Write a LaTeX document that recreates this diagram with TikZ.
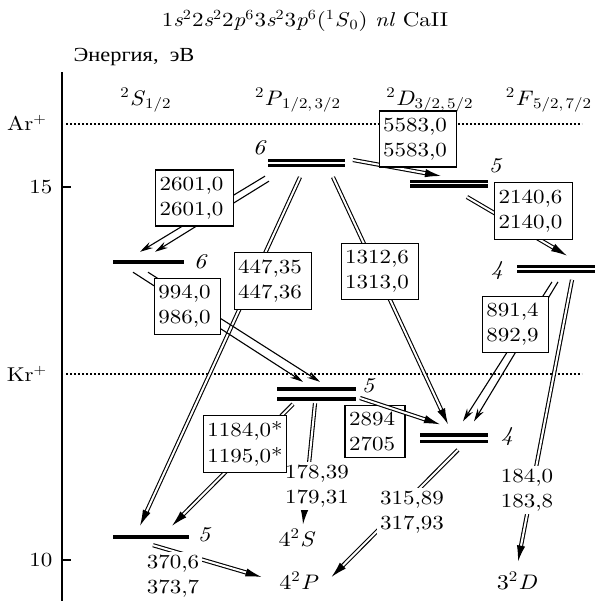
\documentclass[tikz,border=0pt]{standalone}
\usepackage{fontspec}
\setmainfont{lmroman10}[Extension=.otf, UprightFont=*-regular, ItalicFont=*-italic, BoldFont=*-bold, FakeStretch=1.15]
\newfontfamily\cyrfont{Liberation Serif}[FakeStretch=1.12]
\usetikzlibrary{arrows.meta,calc}
\newcommand{\eup}[1]{\textsuperscript{#1}}
\newcommand{\edn}[1]{\textsubscript{#1}}
\newcommand{\pz}{\hspace*{3pt}}

\begin{document}
\begin{tikzpicture}[
        x=0.5pt, y=-0.5pt,
        font=\fontsize{10}{12.6}\selectfont,
        slev/.style={fill=black, inner sep=0pt, outer sep=0pt, minimum height=2.2pt, minimum width=#1*0.5pt},
        dlev/.style 2 args={fill=white, inner sep=0pt, outer sep=0pt, minimum width=#1*0.5pt, minimum height=#2*0.5pt,
            path picture={\fill[black] (path picture bounding box.north west) rectangle ([yshift=-1.6pt]path picture bounding box.north east);
                          \fill[black] ([yshift=1.6pt]path picture bounding box.south west) rectangle (path picture bounding box.south east);}},
        term/.style={font=\fontsize{10.5}{12}\selectfont, inner sep=1pt},
        num/.style={font=\fontsize{10.5}{12}\selectfont\itshape, inner sep=1pt},
        wbox/.style={draw, fill=white, align=left, inner xsep=2pt, inner ysep=3.4pt, line width=0.55pt},
        wtxt/.style={fill=white, align=left, inner sep=1.5pt},
        darr/.style={double, line width=0.55pt, double distance=1pt, -{Latex[length=8pt, width=4.2pt]}},
        sarr/.style={line width=0.55pt, -{Stealth[length=6.5pt, width=3.4pt]}},
        dots/.style={line width=0.9pt, dash pattern=on 0.9pt off 1.1pt}
    ]
        \useasboundingbox (0,0) rectangle (597,601);

        % heading and axis
        \node (title) at (305,21) {1\textit{s}\eup{2}2\textit{s}\eup{2}2\textit{p}\eup{6}3\textit{s}\eup{2}3\textit{p}\eup{6}(\eup{1}\textit{S}\edn{0}) \textit{nl} CaII};
        \node (ylab) at (134,57) {\cyrfont\fontsize{10}{12}\selectfont Энергия,\ \ эВ};
        \draw[line width=1.1pt] (62,72) -- (62,601);
        \draw[line width=1.1pt] (62,187) -- (71,187);
        \draw[line width=1.1pt] (62,560) -- (71,560);
        \node (e15) at (41,187) {15};
        \node (e10) at (41,560) {10};
        \node (ar) at (27,123) {Ar\eup{+}};
        \node (kr) at (27,374) {Kr\eup{+}};
        \draw[dots] (66,124) -- (582,124);
        \draw[dots] (66,374) -- (582,374);

        % series
        \node[term] (tS) at (146,100) {\eup{2}\textit{S}\edn{1/2}};
        \node[term] (tP) at (298,100) {\eup{2}\textit{P}\edn{1/2,\,3/2}};
        \node[term] (tD) at (430,100) {\eup{2}\textit{D}\edn{3/2,\,5/2}};
        \node[term] (tF) at (549,100) {\eup{2}\textit{F}\edn{5/2,\,7/2}};

        % levels
        \node[dlev={77}{8.3}] (p6) at (306.5,163) {};
        \node[dlev={78}{8}] (d5) at (449,183.5) {};
        \node[dlev={78}{8.7}] (f4) at (556,269) {};
        \node[dlev={79}{13.3}] (p5) at (316.5,394) {};
        \node[dlev={68}{10}] (d4) at (454,438.3) {};
        \node[slev=71] (s6) at (148.5,262) {};
        \node[slev=76] (s5) at (151,537) {};
        \node[num] (np6) at (259,148) {6};
        \node[num] (ns6) at (200,262) {6};
        \node[num] (nd5) at (495,166) {5};
        \node[num] (nf4) at (497,271) {4};
        \node[num] (np5) at (368,386) {5};
        \node[num] (nd4) at (507,437) {4};
        \node[num] (ns5) at (204,535) {5};
        \node[term] (s4) at (297,538) {4\eup{2}\textit{S}};
        \node[term] (p4) at (299,581) {4\eup{2}\textit{P}};
        \node[term] (d3) at (517,581) {3\eup{2}\textit{D}};

        % transitions
        \draw[darr] ($(p6.east)+(8,-3)$) -- ($(d5.north)+(-8,-3.5)$);
        \draw[darr] ($(d5.south)+(18,9.5)$) -- ($(f4.north)+(11,-9)$);
        \draw[sarr] ($(p6.south west)+(-3,9)$) -- ($(s6.north)+(-8.5,-8)$);
        \draw[sarr] ($(p6.south west)+(1,14)$) -- ($(s6.north)+(6.5,-8)$);
        \draw[darr] ($(p6.south)+(-6.5,10)$) -- ($(s5.north)+(-11,-9)$);
        \draw[darr] ($(p6.south)+(26.5,10)$) -- ($(d4.north)+(-6,-9)$);
        \draw[sarr] ($(s6.south)+(-15.5,8)$) -- ($(p5.north)+(-13.5,-5.5)$);
        \draw[sarr] ($(s6.south)+(-0.5,8)$) -- ($(p5.north)+(3.5,-5.5)$);
        \draw[sarr] ($(f4.south)+(-4,8.5)$) -- ($(d4.north)+(9,-12)$);
        \draw[sarr] ($(f4.south)+(2,8.5)$) -- ($(d4.north)+(20,-12)$);
        \draw[darr] ($(f4.south)+(16,6.5)$) -- ($(d3.north)+(1,-8)$);
        \draw[darr] ($(p5.south)+(-1.5,2.5)$) -- ($(s4.north)+(6,-2)$);
        \draw[darr] ($(p5.south)+(-23.5,3.5)$) -- ($(s5.north)+(21,-9)$);
        \draw[darr] ($(d4.south)+(4,6.5)$) -- ($(p4.east)+(10.5,-4)$);
        \draw[darr] ($(s5.south)+(2,6)$) -- ($(p4.west)+(-15.5,-4)$);

        % wavelengths
        \node[wtxt] (w178) at (317,486) {178,39\\179,31};
        \node[wtxt] (w315) at (412,512) {315,89\\317,93};
        \node[wtxt] (w184) at (527,490) {184,0\\183,8};
        \node[wtxt] (w370) at (173,576) {370,6\\373,7};
        \node[wbox] (b5583) at (418,139) {5583,0\pz\\5583,0\pz};
        \node[wbox] (b2601) at (194.5,198) {2601,0\pz\\2601,0\pz};
        \node[wbox] (b447) at (273,281) {447,35\pz\\447,36\pz};
        \node[wbox] (b1312) at (380,271.5) {1312,6\pz\\1313,0\pz};
        \node[wbox] (b2140) at (533.5,211) {2140,6\pz\\2140,0\pz};
        \node[wbox] (b994) at (187.5,306.5) {994,0\pz\\986,0\pz};
        \node[wbox] (b891) at (515.5,324.5) {891,4\pz\\892,9\pz};
        \node[wbox] (b2894) at (375,431.5) {2894\pz\\2705\pz};
        \node[wbox] (b1184) at (245,444) {1184,0*\\1195,0*};
        \draw[darr] ($(p5.east)+(4,4)$) -- ($(d4.north)+(-14,-9)$);
    \end{tikzpicture}
\end{document}
